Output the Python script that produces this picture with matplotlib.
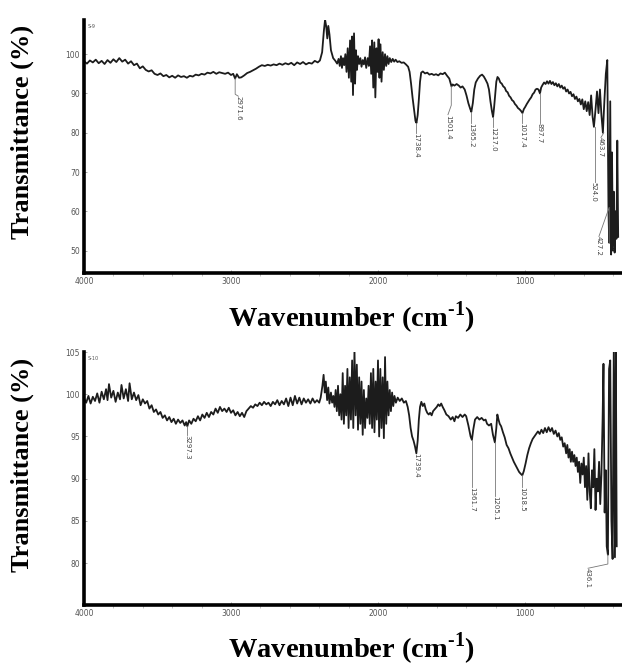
import numpy as np
import matplotlib.pyplot as plt

plt.rcParams['mathtext.fontset'] = 'custom'
plt.rcParams['mathtext.rm'] = 'Liberation Serif:bold'
plt.rcParams['mathtext.bf'] = 'Liberation Serif:bold'

# spectrum S-9 : (wavenumber, transmittance)
s9 = np.array([
    [4000, 98.2], [3980, 97.6], [3960, 98.4], [3940, 97.9], [3920, 98.6], [3900, 97.7],
    [3880, 98.3], [3860, 97.5], [3840, 98.5], [3820, 97.8], [3800, 98.7], [3780, 98.0],
    [3760, 99.0], [3740, 98.1], [3720, 98.6], [3700, 97.6], [3680, 98.2], [3660, 97.2],
    [3640, 97.6], [3620, 96.4], [3600, 96.9], [3580, 96.0], [3560, 95.6], [3540, 95.9],
    [3520, 95.0], [3500, 94.7], [3480, 95.1], [3460, 94.4], [3440, 94.7], [3420, 94.1],
    [3400, 94.5], [3380, 94.0], [3360, 94.6], [3340, 94.2], [3320, 94.4], [3300, 94.0],
    [3280, 94.5], [3260, 94.3], [3240, 94.8], [3220, 94.6], [3200, 95.0], [3180, 94.8],
    [3160, 95.3], [3140, 95.1], [3120, 95.5], [3100, 95.0], [3080, 95.4], [3060, 95.2],
    [3040, 95.0], [3020, 95.3], [3000, 94.7], [2985, 95.0], [2972, 93.8], [2960, 94.9],
    [2945, 94.0], [2930, 94.1], [2910, 94.6], [2890, 95.2], [2870, 95.5], [2850, 95.9],
    [2830, 96.3], [2810, 96.8], [2790, 97.2], [2770, 97.0], [2750, 97.3], [2730, 97.1],
    [2710, 97.4], [2690, 97.2], [2670, 97.6], [2650, 97.3], [2630, 97.7], [2610, 97.4],
    [2590, 97.8], [2570, 97.2], [2550, 97.9], [2530, 97.5], [2510, 98.0], [2490, 97.4],
    [2470, 97.8], [2450, 97.6], [2430, 98.3], [2410, 97.9], [2395, 98.4], [2380, 100.5],
    [2368, 106.0], [2360, 108.8], [2352, 107.0], [2345, 104.0], [2338, 107.2], [2330, 105.0],
    [2320, 101.0], [2305, 99.0], [2290, 98.3], [2278, 97.6], [2268, 98.8], [2260, 97.0],
    [2252, 99.5], [2245, 96.5], [2238, 99.0], [2230, 97.2], [2222, 100.0], [2214, 95.5],
    [2206, 101.5], [2198, 94.0], [2190, 103.5], [2182, 93.0], [2176, 104.5], [2170, 89.6],
    [2163, 105.3], [2156, 92.5], [2150, 101.0], [2143, 96.0], [2136, 99.5], [2128, 97.5],
    [2120, 99.0], [2112, 96.8], [2104, 98.5], [2096, 97.4], [2088, 99.2], [2080, 96.5],
    [2070, 99.0], [2062, 97.0], [2054, 102.0], [2046, 95.0], [2040, 103.5], [2032, 91.5],
    [2025, 103.0], [2018, 89.0], [2010, 101.5], [2003, 95.5], [1996, 103.8], [1990, 94.0],
    [1983, 102.5], [1976, 93.0], [1968, 100.5], [1960, 96.0], [1952, 100.0], [1944, 97.0],
    [1936, 99.5], [1928, 97.5], [1920, 99.0], [1910, 98.0], [1900, 98.8], [1890, 98.1],
    [1880, 98.6], [1868, 98.0], [1855, 98.2], [1840, 97.8], [1825, 97.9], [1810, 97.4],
    [1795, 96.8], [1785, 95.5], [1775, 92.5], [1765, 89.0], [1755, 86.0], [1745, 83.0],
    [1738, 82.5], [1730, 84.5], [1722, 88.5], [1714, 93.0], [1706, 95.3], [1695, 95.6],
    [1680, 95.1], [1665, 95.3], [1650, 94.8], [1635, 95.0], [1620, 94.7], [1605, 94.9],
    [1590, 94.6], [1575, 95.1], [1560, 94.9], [1545, 95.3], [1530, 94.5], [1515, 93.8],
    [1505, 92.5], [1500, 91.8], [1492, 92.3], [1480, 92.0], [1465, 92.4], [1450, 92.0],
    [1438, 91.5], [1425, 91.8], [1410, 91.0], [1398, 89.5], [1385, 87.5], [1372, 86.0],
    [1365, 85.3], [1355, 87.5], [1345, 91.0], [1335, 92.8], [1320, 93.8], [1305, 94.5],
    [1292, 94.8], [1280, 94.3], [1268, 93.5], [1255, 92.5], [1245, 91.0], [1235, 88.0],
    [1225, 85.5], [1217, 84.0], [1210, 86.5], [1202, 90.0], [1195, 93.0], [1187, 94.2],
    [1178, 93.8], [1168, 92.8], [1158, 92.5], [1148, 91.8], [1138, 91.5], [1128, 90.6],
    [1118, 90.3], [1108, 89.4], [1098, 89.0], [1088, 88.3], [1078, 88.0], [1068, 87.3],
    [1058, 86.9], [1048, 86.3], [1038, 86.0], [1028, 85.6], [1017, 85.0], [1008, 86.0],
    [998, 86.6], [988, 87.3], [978, 87.9], [968, 88.5], [958, 89.0], [948, 89.8],
    [938, 90.2], [928, 91.0], [918, 91.2], [908, 91.0], [898, 90.0], [890, 91.5],
    [880, 92.2], [870, 92.8], [860, 92.4], [850, 93.1], [840, 92.5], [830, 93.2],
    [820, 92.4], [810, 92.9], [800, 92.1], [790, 92.6], [780, 91.8], [770, 92.4],
    [760, 91.5], [750, 92.0], [740, 91.2], [730, 91.6], [720, 90.5], [710, 91.0],
    [700, 90.0], [690, 90.4], [680, 89.3], [670, 89.8], [660, 88.6], [650, 89.2],
    [640, 88.0], [630, 88.6], [620, 87.2], [610, 88.5], [600, 86.0], [590, 88.0],
    [580, 85.5], [570, 87.8], [560, 84.5], [550, 89.5], [540, 84.0], [531, 81.5],
    [520, 86.0], [510, 90.5], [500, 85.0], [490, 91.0], [480, 84.5], [470, 80.0],
    [460, 88.0], [450, 95.0], [440, 98.5], [432, 60.0], [427, 52.0], [420, 88.0],
    [414, 49.0], [408, 75.0], [402, 50.0], [396, 65.0], [390, 49.5], [384, 60.0],
    [378, 53.0], [372, 78.0], [366, 53.5],
])

# spectrum S-10
s10 = np.array([
    [4000, 99.5], [3985, 99.0], [3970, 99.8], [3955, 98.9], [3940, 99.7], [3925, 99.2],
    [3910, 100.1], [3895, 99.0], [3880, 100.3], [3865, 99.4], [3850, 100.6], [3840, 99.3],
    [3830, 101.2], [3815, 99.6], [3800, 100.4], [3785, 99.1], [3770, 100.2], [3755, 99.4],
    [3745, 101.1], [3730, 99.5], [3715, 100.6], [3700, 99.2], [3690, 101.3], [3675, 99.4],
    [3660, 100.2], [3645, 99.3], [3630, 99.9], [3615, 98.7], [3600, 99.4], [3585, 98.9],
    [3570, 99.2], [3555, 98.3], [3540, 98.7], [3525, 97.9], [3510, 98.2], [3495, 97.6],
    [3480, 97.9], [3465, 97.2], [3450, 97.5], [3435, 96.9], [3420, 97.3], [3405, 96.7],
    [3390, 97.1], [3375, 96.5], [3360, 97.0], [3345, 96.6], [3330, 96.9], [3315, 96.3],
    [3305, 96.7], [3297, 96.2], [3285, 96.9], [3270, 96.5], [3255, 97.1], [3240, 96.8],
    [3225, 97.4], [3210, 96.9], [3195, 97.6], [3180, 97.2], [3165, 97.8], [3150, 97.3],
    [3135, 97.9], [3120, 97.6], [3105, 98.3], [3090, 97.8], [3075, 98.5], [3060, 98.0],
    [3045, 98.3], [3030, 97.9], [3015, 98.4], [3000, 97.8], [2985, 98.1], [2970, 97.5],
    [2955, 97.9], [2940, 97.4], [2925, 97.8], [2910, 97.3], [2895, 98.0], [2880, 98.3],
    [2865, 98.6], [2850, 98.4], [2835, 98.8], [2820, 98.6], [2805, 99.0], [2790, 98.7],
    [2775, 99.1], [2760, 98.8], [2745, 99.0], [2730, 98.6], [2715, 99.1], [2700, 98.8],
    [2685, 99.3], [2670, 98.7], [2655, 99.2], [2640, 98.8], [2625, 99.5], [2610, 98.6],
    [2595, 99.6], [2580, 98.7], [2565, 99.8], [2550, 98.9], [2535, 99.6], [2520, 98.8],
    [2505, 99.5], [2490, 99.0], [2475, 99.4], [2460, 98.9], [2445, 99.5], [2430, 99.0],
    [2415, 99.3], [2400, 99.0], [2390, 99.6], [2378, 101.0], [2370, 102.3], [2362, 100.2],
    [2355, 101.5], [2346, 99.3], [2338, 100.8], [2330, 98.9], [2320, 100.2], [2312, 99.0],
    [2304, 99.8], [2296, 98.5], [2288, 100.5], [2280, 98.0], [2272, 101.0], [2264, 97.5],
    [2256, 100.0], [2248, 97.0], [2240, 102.5], [2232, 96.5], [2224, 101.0], [2216, 97.5],
    [2208, 103.0], [2200, 96.0], [2192, 102.0], [2184, 97.0], [2176, 104.0], [2168, 96.0],
    [2160, 105.3], [2152, 97.5], [2144, 103.5], [2136, 95.8], [2128, 102.0], [2120, 96.5],
    [2112, 101.5], [2104, 95.2], [2096, 100.5], [2088, 96.0], [2080, 99.5], [2072, 97.2],
    [2064, 101.0], [2056, 96.5], [2048, 102.5], [2040, 96.0], [2032, 103.0], [2024, 95.5],
    [2016, 101.5], [2008, 97.0], [2000, 104.0], [1992, 95.0], [1984, 103.0], [1976, 96.0],
    [1968, 102.0], [1960, 94.8], [1952, 104.4], [1944, 96.5], [1936, 101.5], [1928, 97.5],
    [1920, 100.5], [1912, 98.0], [1904, 100.2], [1896, 98.6], [1888, 99.8], [1878, 99.0],
    [1866, 99.6], [1852, 99.2], [1838, 99.5], [1824, 99.0], [1810, 99.2], [1798, 98.5],
    [1788, 97.5], [1778, 96.0], [1768, 95.0], [1758, 94.5], [1748, 93.8], [1739, 93.0],
    [1730, 94.5], [1722, 97.0], [1714, 98.5], [1705, 99.1], [1695, 98.6], [1685, 98.9],
    [1675, 98.2], [1665, 97.8], [1655, 97.6], [1645, 97.8], [1635, 97.5], [1625, 98.0],
    [1615, 98.2], [1600, 98.5], [1590, 98.8], [1580, 98.6], [1570, 98.9], [1560, 98.5],
    [1548, 98.1], [1535, 97.6], [1520, 97.4], [1505, 97.0], [1492, 97.3], [1480, 96.8],
    [1470, 97.4], [1455, 97.2], [1440, 97.6], [1425, 97.3], [1410, 97.6], [1400, 97.4],
    [1385, 96.3], [1370, 95.0], [1361, 94.6], [1352, 95.8], [1340, 97.0], [1325, 97.3],
    [1310, 97.0], [1295, 97.2], [1280, 96.9], [1268, 97.0], [1258, 96.5], [1245, 96.3],
    [1230, 96.5], [1218, 95.2], [1205, 94.3], [1195, 96.0], [1188, 97.6], [1180, 97.0],
    [1172, 96.5], [1162, 96.2], [1150, 95.5], [1138, 94.9], [1125, 94.0], [1112, 93.6],
    [1100, 93.0], [1088, 92.5], [1076, 92.0], [1064, 91.6], [1052, 91.2], [1040, 90.8],
    [1030, 90.6], [1018, 90.4], [1008, 90.9], [996, 91.8], [984, 92.8], [972, 93.6],
    [960, 94.2], [948, 94.7], [936, 95.0], [924, 95.3], [912, 95.6], [900, 95.3],
    [888, 95.8], [876, 95.4], [864, 96.0], [852, 95.5], [840, 96.1], [828, 95.6],
    [816, 96.0], [804, 95.3], [792, 95.7], [780, 95.0], [770, 95.4], [760, 94.6],
    [750, 94.9], [740, 93.8], [730, 94.2], [720, 93.0], [712, 94.0], [704, 92.5],
    [696, 93.5], [688, 92.0], [680, 93.2], [672, 92.0], [664, 92.8], [656, 91.5],
    [648, 92.5], [640, 90.8], [632, 92.0], [624, 89.5], [616, 91.8], [608, 90.5],
    [600, 92.5], [592, 89.0], [584, 91.5], [576, 87.5], [568, 93.0], [560, 88.5],
    [552, 86.5], [544, 91.0], [536, 89.0], [528, 93.5], [520, 86.3], [512, 90.0],
    [504, 88.5], [496, 92.0], [488, 87.0], [480, 90.5], [472, 97.0], [466, 103.6],
    [458, 86.0], [450, 91.0], [444, 82.0], [436, 81.0], [428, 103.0], [420, 104.0],
    [412, 85.0], [404, 80.5], [396, 105.0], [388, 80.7], [382, 105.8], [376, 82.0],
])

# peak labels: (label, peak value, line end, label x, label top)
s9_peaks = [
    ('2971.6', 93.8, 89.8, 2950, 89.3),
    ('1738.4', 82.5, 80.7, 1738, 80.0),
    ('1501.4', 91.8, 87.0, 1524, 84.6),
    ('1365.2', 85.3, 83.0, 1365, 82.4),
    ('1217.0', 84.0, 82.0, 1217, 81.4),
    ('1017.4', 85.0, 83.0, 1017, 82.4),
    ('897.7', 90.0, 83.0, 898, 82.4),
    ('524.0', 81.5, 68.0, 531, 67.4),
    ('463.7', 80.0, 80.0, 483, 78.8),
    ('427.2', 52.0, 61.0, 497, 53.6),
]
s10_peaks = [
    ('3297.3', 96.2, 95.4, 3297, 95.2),
    ('1739.4', 93.0, 93.2, 1739, 93.1),
    ('1361.7', 94.6, 89.2, 1361, 89.0),
    ('1205.1', 94.3, 88.1, 1205, 87.9),
    ('1018.5', 90.4, 89.2, 1018, 89.0),
    ('436.1', 81.0, 79.9, 571, 79.4),
]

fig = plt.figure(figsize=(6.22, 6.66), dpi=100)


def draw_panel(ax, data, peaks, ylim, yticks, name):
    ax.plot(data[:, 0], data[:, 1], color='#1c1c1c', lw=1.3)
    ax.set_xlim(4000, 340)
    ax.set_ylim(*ylim)
    ax.set_yticks(yticks)
    ax.set_xticks([4000, 3000, 2000, 1000])
    ax.set_xticks(np.arange(3800, 340, -200), minor=True)
    for s in ['top', 'right']:
        ax.spines[s].set_visible(False)
    for s in ['left', 'bottom']:
        ax.spines[s].set_linewidth(2.6)
    ax.tick_params(axis='both', labelsize=5.5, labelcolor='#555555', color='#999999',
                   length=2, width=0.6, direction='in', pad=3)
    ax.tick_params(axis='x', which='minor', length=2, width=0.5, color='#aaaaaa')
    ax.text(0.006, 0.985, name, transform=ax.transAxes, fontsize=3.5,
            color='#555555', va='top', ha='left')
    for lab, yv, yend, xl, ytop in peaks:
        wn = float(lab)
        if abs(xl - wn) < 8:
            ax.plot([wn, wn], [yv, ytop], color='#777777', lw=0.6)
        else:
            ax.plot([wn, wn, xl], [yv, yend, ytop], color='#777777', lw=0.6)
        ax.text(xl, ytop, lab, rotation=270, fontsize=5, color='#444444',
                ha='center', va='top')


ax1 = fig.add_axes([84 / 622, 1 - 273 / 666, 538 / 622, 253 / 666])
draw_panel(ax1, s9, s9_peaks, (44.3, 108.7), [50, 60, 70, 80, 90, 100], 'S-9')
ax1.text(400, 51.5, '...', rotation=270, fontsize=4, color='#444444', ha='center', va='top')

ax2 = fig.add_axes([84 / 622, 1 - 605 / 666, 538 / 622, 253 / 666])
draw_panel(ax2, s10, s10_peaks, (75.05, 105), [80, 85, 90, 95, 100, 105], 'S-10')

# axis titles
for yc in [1 - 132 / 666, 1 - 465 / 666]:
    fig.text(22 / 622, yc, 'Transmittance (%)', rotation=90, family='Liberation Serif',
             weight='bold', fontsize=19, ha='center', va='center')
for yc in [1 - 318 / 666, 1 - 649 / 666]:
    fig.text(352 / 622, yc, 'Wavenumber (cm$^{\\text{-}\\mathbf{1}}$)', family='Liberation Serif',
             weight='bold', fontsize=20.5, ha='center', va='center')

plt.savefig('out.png', dpi=100)
